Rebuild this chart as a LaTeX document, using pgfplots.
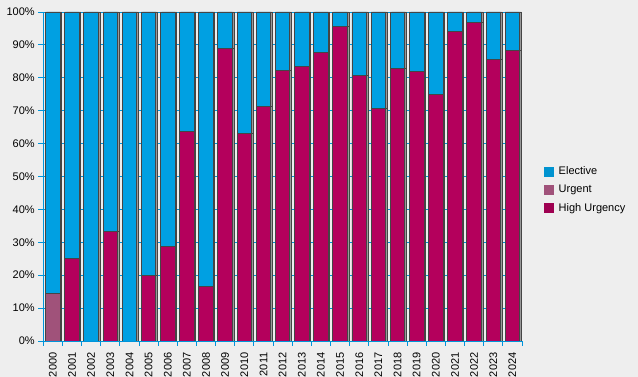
\documentclass[border=0pt]{standalone}
\usepackage{pgfplots}
\pgfplotsset{compat=1.18}
\usepackage{pgfplotstable}
\usepackage{fontspec}
\setmainfont{Liberation Sans}
\definecolor{bg}{HTML}{EEEEEE}
\definecolor{elective}{HTML}{00A0E2}
\definecolor{urgent}{HTML}{A0527A}
\definecolor{highurg}{HTML}{B4005C}
\definecolor{axisblue}{HTML}{0094DA}
\definecolor{barline}{HTML}{454545}
\pgfplotstableread{
x  hu    urg   el
0  0     14.3  85.7
1  25    0     75
2  0     0     100
3  33.3  0     66.7
4  0     0     100
5  20    0     80
6  28.6  0     71.4
7  63.7  0     36.3
8  16.7  0     83.3
9  89.0  0     11.0
10 63.1  0     36.9
11 71.4  0     28.6
12 82.1  0     17.9
13 83.3  0     16.7
14 87.8  0     12.2
15 95.7  0     4.3
16 80.8  0     19.2
17 70.7  0     29.3
18 82.7  0     17.3
19 81.8  0     18.2
20 75.0  0     25.0
21 94.2  0     5.8
22 96.7  0     3.3
23 85.7  0     14.3
24 88.4  0     11.6
}\datatable
\begin{document}
\begin{tikzpicture}[x=1pt,y=1pt]
\useasboundingbox (0,0) rectangle (638,377);
\fill[bg] (0,0) rectangle (638,377);
\begin{axis}[
  at={(43.3pt,36pt)}, anchor=south west,
  scale only axis, width=478.7pt, height=329pt,
  ybar stacked, bar width=0.76,
  xmin=-0.5, xmax=24.5, ymin=0, ymax=100,
  axis x line*=bottom, axis y line*=left,
  axis line style={draw=axisblue, line width=0.9pt},
  xtick={0,...,24},
  xticklabels={2000,2001,2002,2003,2004,2005,2006,2007,2008,2009,2010,2011,2012,2013,2014,2015,2016,2017,2018,2019,2020,2021,2022,2023,2024},
  major x tick style={draw=none},
  minor xtick={-0.5,0.5,...,24.5},
  minor x tick style={draw=axisblue, line width=0.9pt},
  minor tick length=5pt,
  x tick label style={rotate=90, anchor=east, font=\fontsize{11}{13}\selectfont},
  xticklabel shift=3pt,
  ytick={0,10,...,100},
  yticklabel={\pgfmathprintnumber{\tick}\%},
  y tick label style={font=\fontsize{11}{13}\selectfont},
  major y tick style={draw=axisblue, line width=0.9pt},
  major tick length=5pt,
  tick align=outside,
  /pgf/number format/assume math mode=true,
  ymajorgrids, grid style={draw=axisblue, line width=0.8pt},
  axis background/.style={fill=bg},
  legend style={at={(1.04,0.46)}, anchor=west, draw=none, fill=none,
    font=\fontsize{11}{13}\selectfont, row sep=5pt,
    /tikz/every odd column/.append style={column sep=3pt}},
  legend cell align=left,
]
\addplot[forget plot, fill=highurg, draw=barline, line width=0.9pt,
  preaction={fill=black!40, transform canvas={xshift=1.6pt}}]
  table[x=x,y=hu]{\datatable};
\addplot[forget plot, fill=urgent, draw=barline, line width=0.9pt,
  preaction={fill=black!40, transform canvas={xshift=1.6pt}}]
  table[x=x,y=urg]{\datatable};
\addplot[forget plot, fill=elective, draw=barline, line width=0.9pt,
  preaction={fill=black!40, transform canvas={xshift=1.6pt}}]
  table[x=x,y=el]{\datatable};
\addlegendimage{legend image code/.code={\fill[elective!92!black] (0pt,-4.5pt) rectangle (9pt,4.5pt);}}
\addlegendentry{Elective}
\addlegendimage{legend image code/.code={\fill[urgent] (0pt,-4.5pt) rectangle (9pt,4.5pt);}}
\addlegendentry{Urgent}
\addlegendimage{legend image code/.code={\fill[highurg!88!black] (0pt,-4.5pt) rectangle (9pt,4.5pt);}}
\addlegendentry{High Urgency}
\end{axis}
\end{tikzpicture}
\end{document}
